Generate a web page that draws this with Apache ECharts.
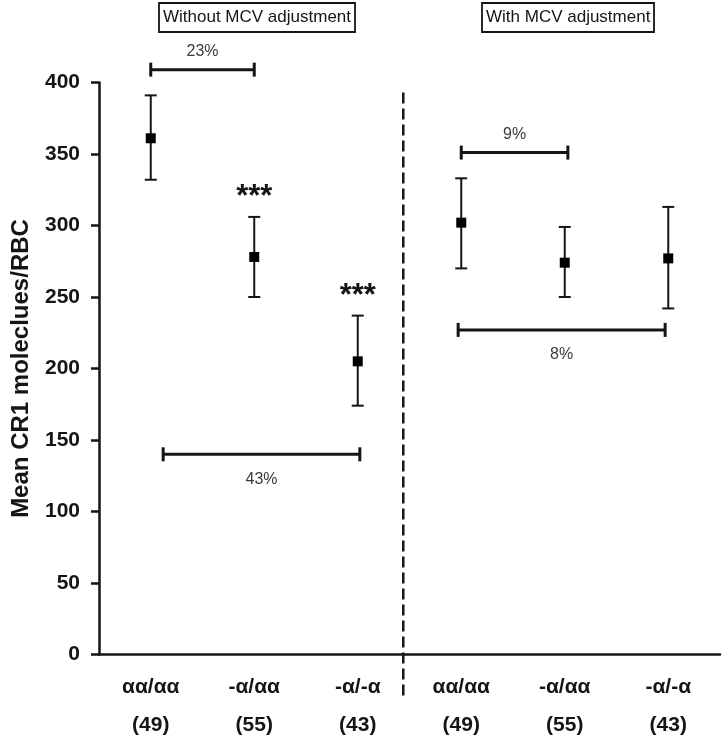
<!DOCTYPE html>
<html>
<head>
<meta charset="utf-8">
<script src="https://cdn.jsdelivr.net/npm/echarts@6/dist/echarts.min.js"></script>
<style>
html,body{margin:0;padding:0;background:#fff;}
#chart{width:722px;height:737px;}
</style>
</head>
<body>
<div id="chart"></div>
<script>
// ---- data ----
const genotypes = ['αα/αα', '-α/αα', '-α/-α', 'αα/αα', '-α/αα', '-α/-α'];
const sampleSizes = [49, 55, 43, 49, 55, 43];
const means = [361, 278, 205, 302, 274, 277];
const lowers = [332, 250, 174, 270, 250, 242];
const uppers = [391, 306, 237, 333, 299, 313];
const significance = ['', '***', '***', '', '', ''];
const panelTitles = ['Without MCV adjustment', 'With MCV adjustment'];
const yMin = 0, yMax = 400, yStep = 50;
const yAxisTitle = 'Mean CR1 moleclues/RBC';
// comparison brackets (category positions and level in y units)
const bracketFrom = [0, 0.12, 3, 2.97];
const bracketTo = [1, 2.02, 4.03, 4.97];
const bracketLevel = [409, 140, 351, 227];
const bracketText = ['23%', '43%', '9%', '8%'];
const bracketTextSide = ['top', 'bottom', 'top', 'bottom'];
const dividerAt = 2.44;

const FONT = '"Liberation Sans", Arial, sans-serif';
const INK = '#151515';

const errorData = means.map((m, i) => [i, m, lowers[i], uppers[i]]);
const bracketData = bracketFrom.map((f, i) => [f, bracketTo[i], bracketLevel[i]]);

const chart = echarts.init(document.getElementById('chart'), null, {renderer: 'canvas'});

const titleBox = {
  top: 3,
  borderColor: INK, borderWidth: 1.8, padding: [6, 4, 6, 4],
  textStyle: {fontFamily: FONT, fontSize: 17, fontWeight: 'normal', color: INK}
};

const option = {
  backgroundColor: '#ffffff',
  animation: false,
  title: [
    Object.assign({}, titleBox, {text: panelTitles[0], left: 159}),
    Object.assign({}, titleBox, {text: panelTitles[1], left: 482})
  ],
  grid: {left: 99, right: 2, top: 82.5, bottom: 82.5, containLabel: false, outerBoundsMode: 'none'},
  xAxis: [
    {
      type: 'category',
      data: genotypes,
      boundaryGap: true,
      axisLine: {lineStyle: {color: INK, width: 2.5}},
      axisTick: {alignWithLabel: true, length: 8, lineStyle: {color: INK, width: 2.5}},
      axisLabel: {
        interval: 0,
        margin: 14,
        fontFamily: FONT, fontSize: 21, fontWeight: 'bold', color: INK,
        lineHeight: 38,
        formatter: (v, i) => v + '\n(' + sampleSizes[i] + ')'
      },
      splitLine: {show: false}
    },
    {
      type: 'value', min: -0.5, max: 5.5, show: false
    }
  ],
  yAxis: {
    type: 'value',
    min: yMin, max: yMax, interval: yStep,
    name: yAxisTitle,
    nameLocation: 'middle',
    nameGap: 66,
    nameTextStyle: {fontFamily: FONT, fontSize: 24, fontWeight: 'bold', color: INK},
    axisLine: {show: true, onZero: false, lineStyle: {color: INK, width: 2.5}},
    axisTick: {show: true, length: 8, lineStyle: {color: INK, width: 2.5}},
    axisLabel: {margin: 19, fontFamily: FONT, fontSize: 21, fontWeight: 'bold', color: INK},
    splitLine: {show: false}
  },
  series: [
    {
      type: 'custom',
      name: 'means',
      xAxisIndex: 0,
      clip: false,
      data: errorData,
      renderItem: function (params, api) {
        const i = api.value(0);
        const pm = api.coord([i, api.value(1)]);
        const pl = api.coord([i, api.value(2)]);
        const pu = api.coord([i, api.value(3)]);
        const x = pm[0];
        const cap = 6, sq = 10;
        const st = {stroke: INK, lineWidth: 2};
        const children = [
          {type: 'line', shape: {x1: x, y1: pu[1], x2: x, y2: pl[1]}, style: st},
          {type: 'line', shape: {x1: x - cap, y1: pu[1], x2: x + cap, y2: pu[1]}, style: st},
          {type: 'line', shape: {x1: x - cap, y1: pl[1], x2: x + cap, y2: pl[1]}, style: st},
          {type: 'rect', shape: {x: x - sq / 2, y: pm[1] - sq / 2, width: sq, height: sq}, style: {fill: '#000'}}
        ];
        const sig = significance[params.dataIndex];
        if (sig) {
          children.push({
            type: 'text',
            style: {
              text: sig, x: x, y: pu[1] - 19,
              align: 'center', verticalAlign: 'middle',
              font: 'bold 31px ' + FONT, fill: INK
            }
          });
        }
        return {type: 'group', children: children};
      },
      z: 5
    },
    {
      type: 'custom',
      name: 'brackets',
      xAxisIndex: 1,
      clip: false,
      data: bracketData,
      renderItem: function (params, api) {
        const a = api.coord([api.value(0), api.value(2)]);
        const b = api.coord([api.value(1), api.value(2)]);
        const y = a[1];
        const cap = 7;
        const st = {stroke: INK, lineWidth: 3};
        const idx = params.dataIndex;
        const top = bracketTextSide[idx] === 'top';
        return {
          type: 'group',
          children: [
            {type: 'line', shape: {x1: a[0], y1: y, x2: b[0], y2: y}, style: st},
            {type: 'line', shape: {x1: a[0], y1: y - cap, x2: a[0], y2: y + cap}, style: st},
            {type: 'line', shape: {x1: b[0], y1: y - cap, x2: b[0], y2: y + cap}, style: st},
            {
              type: 'text',
              style: {
                text: bracketText[idx],
                x: (a[0] + b[0]) / 2, y: top ? y - 18 : y + 25,
                align: 'center', verticalAlign: 'middle',
                font: '16px ' + FONT, fill: '#3a3a3a'
              }
            }
          ]
        };
      },
      z: 4
    },
    {
      type: 'custom',
      name: 'divider',
      xAxisIndex: 1,
      clip: false,
      data: [[dividerAt]],
      renderItem: function (params, api) {
        const x = api.coord([api.value(0), yMax])[0];
        const cs = params.coordSys;
        return {
          type: 'line',
          shape: {x1: x, y1: cs.y + 10, x2: x, y2: cs.y + cs.height + 46},
          style: {stroke: INK, lineWidth: 2.5, lineDash: [11, 5]}
        };
      },
      z: 3
    }
  ]
};

chart.setOption(option);
</script>
</body>
</html>
